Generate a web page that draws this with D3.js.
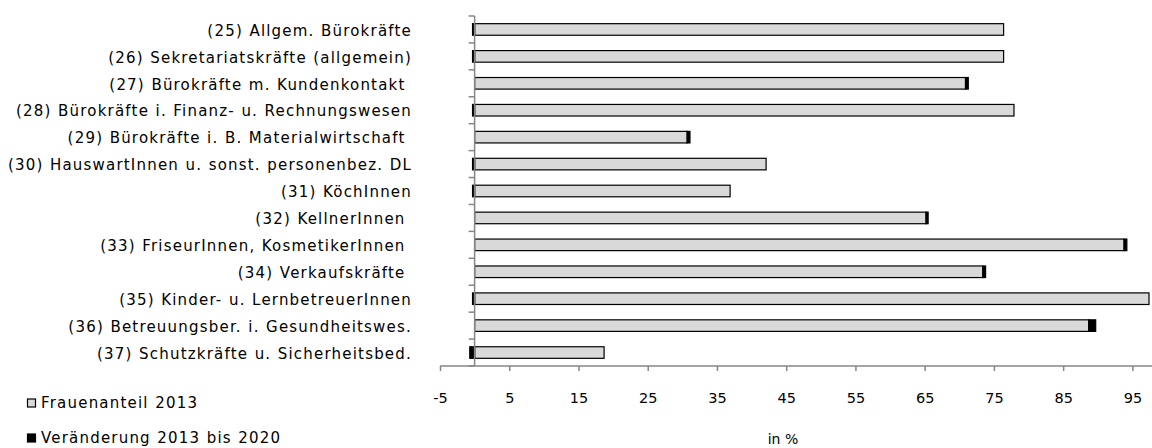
<!DOCTYPE html>
<html><head><meta charset="utf-8">
<script src="https://cdn.jsdelivr.net/npm/d3@7"></script>
<style>
html,body{margin:0;padding:0;background:#fff;}
svg text{font-family:"DejaVu Sans",sans-serif;white-space:pre;fill:#000;}
.lbl{letter-spacing:1.2px;word-spacing:0.5px;}
</style></head>
<body><svg id="c" width="1152" height="448"></svg>
<script>
const categories = [
 "(25) Allgem. Bürokräfte",
 "(26) Sekretariatskräfte (allgemein)",
 "(27) Bürokräfte m. Kundenkontakt ",
 "(28) Bürokräfte i. Finanz- u. Rechnungswesen",
 "(29) Bürokräfte i. B. Materialwirtschaft ",
 "(30) HauswartInnen u. sonst. personenbez. DL",
 "(31) KöchInnen",
 "(32) KellnerInnen ",
 "(33) FriseurInnen, KosmetikerInnen ",
 "(34) Verkaufskräfte ",
 "(35) Kinder- u. LernbetreuerInnen",
 "(36) Betreuungsber. i. Gesundheitswes.",
 "(37) Schutzkräfte u. Sicherheitsbed."
];
const frauenanteil2013 = [76.4, 76.4, 70.9, 77.9, 30.7, 42.1, 36.9, 65.2, 93.8, 73.4, 97.4, 88.7, 18.7];
const veraenderung = [-0.3, -0.3, 0.4, -0.3, 0.4, -0.3, -0.3, 0.3, 0.4, 0.4, -0.3, 1.0, -0.7];
const tickValues = [-5, 5, 15, 25, 35, 45, 55, 65, 75, 85, 95];
const seriesNames = ["Frauenanteil 2013", "Veränderung 2013 bis 2020"];

const svg = d3.select("#c");
const x = d3.scaleLinear().domain([-5, 100]).range([440, 1167]);
const y = d3.scaleBand().domain(categories).range([16, 366]);
const bh = y.bandwidth() * 0.43;
const axisCol = "#868686";
const FS = 15;

// bars
const g = svg.append("g");
categories.forEach((c, i) => {
  const v = frauenanteil2013[i], d = veraenderung[i];
  const yy = y(c) + (y.bandwidth() - bh) / 2;
  g.append("rect").attr("x", x(0)).attr("y", yy).attr("width", x(v) - x(0)).attr("height", bh)
    .attr("fill", "#d9d9d9").attr("stroke", "#000").attr("stroke-width", 1.2);
  const x0 = d >= 0 ? x(v) : x(d);
  const x1 = d >= 0 ? x(v + d) : x(0);
  g.append("rect").attr("x", x0).attr("y", yy).attr("width", x1 - x0).attr("height", bh)
    .attr("fill", "#000").attr("stroke", "#000").attr("stroke-width", 1.2);
});

// y axis
const ya = svg.append("g");
ya.append("line").attr("x1", x(0)).attr("x2", x(0)).attr("y1", 16).attr("y2", 366)
  .attr("stroke", axisCol).attr("stroke-width", 1.5);
const bounds = categories.map(c => y(c)).concat([y.range()[1]]);
ya.selectAll("line.t").data(bounds).enter().append("line")
  .attr("x1", x(0) - 6).attr("x2", x(0)).attr("y1", d => d).attr("y2", d => d)
  .attr("stroke", axisCol).attr("stroke-width", 1.5);
ya.selectAll("text").data(categories).enter().append("text").attr("class", "lbl")
  .attr("x", 412).attr("y", d => y(d) + y.bandwidth() / 2 + 1).attr("dy", "0.35em")
  .attr("text-anchor", "end").attr("font-size", FS).text(d => d);

// x axis
const xa = svg.append("g").attr("transform", "translate(0,366)")
  .call(d3.axisBottom(x).tickValues(tickValues).tickSize(5).tickPadding(22).tickFormat(d => String(d)));
xa.select(".domain").attr("d", `M${x(-5)},0H1152`).attr("stroke", axisCol).attr("stroke-width", 1.5);
xa.selectAll(".tick line").attr("stroke", axisCol).attr("stroke-width", 1.5);
xa.selectAll(".tick text").attr("font-size", 14.5).attr("font-family", "DejaVu Sans").attr("fill", "#000");

svg.append("text").attr("x", 783).attr("y", 444).attr("text-anchor", "middle")
  .attr("font-size", 14).text("in %");

// legend
const leg = svg.append("g");
const legFill = ["#d9d9d9", "#000"];
const legY = [403, 438];
seriesNames.forEach((n, i) => {
  leg.append("rect").attr("x", 27.5).attr("y", legY[i] - 4).attr("width", 8).attr("height", 8)
    .attr("fill", legFill[i]).attr("stroke", "#000").attr("stroke-width", 1.2);
  leg.append("text").attr("class", "lbl").attr("x", 41).attr("y", legY[i]).attr("dy", "0.35em")
    .attr("font-size", FS).text(n);
});
</script></body></html>
